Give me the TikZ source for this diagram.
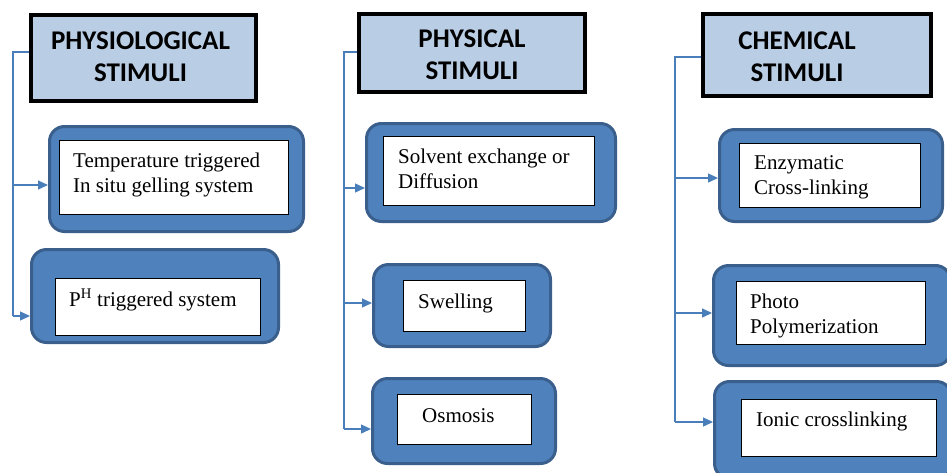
\documentclass[tikz,border=0pt]{standalone}
\usepackage{fontspec}
\setmainfont{Liberation Serif}
\newfontfamily\headfont{Carlito}
\usetikzlibrary{arrows.meta}
\definecolor{HeadBlue}{HTML}{B9CDE5}
\definecolor{BoxBlue}{HTML}{4F81BD}
\definecolor{BoxEdge}{HTML}{3A5F8C}
\definecolor{LinkBlue}{HTML}{4A7EBB}
\tikzset{
    header/.style = {draw=black, line width=4pt, fill=HeadBlue, rectangle},
    headtext/.style = {font=\headfont\bfseries\fontsize{27}{32}\selectfont,
        align=center, inner sep=0pt},
    outerbox/.style = {draw=BoxEdge, fill=BoxBlue, line width=3pt,
        rounded corners=15pt, rectangle},
    innerbox/.style = {draw=black, fill=white, line width=0.8pt, rectangle},
    boxtext/.style = {font=\fontsize{21}{25}\selectfont, align=left, inner sep=0pt},
    link/.style = {draw=LinkBlue, line width=1.3pt},
    tip/.style = {-{Triangle[length=10pt,width=9pt]}}
}

\begin{document}
\begin{tikzpicture}[x=1pt,y=-1pt]
        \useasboundingbox (0,0) rectangle (947,472);
        \clip (0,0) rectangle (947,472);
        % headers
        \node[header, minimum width=225pt, minimum height=86pt] (physio) at (143.5,58) {};
        \node[headtext] (physioT) at (140.5,56.5) {PHYSIOLOGICAL\\STIMULI};
        \node[header, line width=3.5pt, minimum width=226pt, minimum height=78pt] (phys) at (472,53) {};
        \node[headtext] (physT) at (472,54.8) {PHYSICAL\\STIMULI};
        \node[header, minimum width=228pt, minimum height=82pt] (chem) at (817,55) {};
        \node[headtext] (chemT) at (797,57) {CHEMICAL\\STIMULI};
        % physiological
        \node[outerbox, minimum width=254pt, minimum height=105pt] (temp) at (176.5,179) {};
        \node[innerbox, minimum width=229pt, minimum height=74pt] (tempIn) at (174,177.5) {};
        \node[boxtext, anchor=north west] (tempT) at (73,152.5) {Temperature triggered\\In situ gelling system};
        \node[outerbox, minimum width=247pt, minimum height=93pt] (ph) at (155,296) {};
        \node[innerbox, minimum width=205pt, minimum height=57pt] (phIn) at (158,307) {};
        \node[boxtext, anchor=base west] (phT) at (69,306) {P\textsuperscript{H} triggered system};
        % physical
        \node[outerbox, minimum width=249pt, minimum height=98pt] (solv) at (491,172.5) {};
        \node[innerbox, minimum width=211pt, minimum height=69pt] (solvIn) at (489,171) {};
        \node[boxtext, anchor=north west] (solvT) at (398,148.5) {Solvent exchange or\\Diffusion};
        \node[outerbox, minimum width=177pt, minimum height=82pt] (swell) at (462,305.5) {};
        \node[innerbox, minimum width=122pt, minimum height=51pt] (swellIn) at (464.5,306) {};
        \node[boxtext, anchor=base west] (swellT) at (418,308) {Swelling};
        \node[outerbox, minimum width=183pt, minimum height=85pt] (osm) at (464,421) {};
        \node[innerbox, minimum width=134pt, minimum height=50pt] (osmIn) at (464.5,419.5) {};
        \node[boxtext, anchor=base west] (osmT) at (422,422) {Osmosis};
        % chemical
        \node[outerbox, minimum width=223pt, minimum height=92pt] (enz) at (831,175.5) {};
        \node[innerbox, minimum width=181pt, minimum height=64pt] (enzIn) at (830,175.5) {};
        \node[boxtext, anchor=north west] (enzT) at (754,155.5) {Enzymatic\\Cross-linking};
        \node[outerbox, minimum width=237pt, minimum height=100pt] (photo) at (832,315.5) {};
        \node[innerbox, minimum width=189pt, minimum height=63pt] (photoIn) at (831,313) {};
        \node[boxtext, anchor=north west] (photoT) at (750,293.5) {Photo\\Polymerization};
        \node[outerbox, minimum width=237pt, minimum height=97pt] (ionic) at (833,430) {};
        \node[innerbox, minimum width=195pt, minimum height=57pt] (ionicIn) at (839,428) {};
        \node[boxtext, anchor=base west] (ionicT) at (756,426) {Ionic crosslinking};
        % connectors
        \coordinate (bus1) at (13,0);
        \coordinate (bus2) at (344,0);
        \coordinate (bus3) at (675,0);
        \coordinate (a1) at ([yshift=-6pt]temp.west);
        \coordinate (a2) at ([yshift=-20pt]ph.west);
        \coordinate (a3) at ([yshift=-15.5pt]solv.west);
        \coordinate (a4) at ([yshift=2.5pt]swell.west);
        \coordinate (a5) at ([yshift=-8pt]osm.west);
        \coordinate (a6) at ([yshift=-2.5pt]enz.west);
        \coordinate (a7) at ([yshift=2.5pt]photo.west);
        \coordinate (a8) at ([yshift=8pt]ionic.west);
        \draw[link] ([yshift=6pt]physio.west) -| (bus1 |- a2);
        \draw[link] ([yshift=1pt]phys.west) -| (bus2 |- a5);
        \draw[link] ([yshift=-2pt]chem.west) -| (bus3 |- a8);
        \foreach \a/\b in {a1/bus1,a2/bus1,a3/bus2,a4/bus2,a5/bus2,a6/bus3,a7/bus3,a8/bus3}
            \draw[link,tip] (\b |- \a) -- (\a);
\end{tikzpicture}
\end{document}
